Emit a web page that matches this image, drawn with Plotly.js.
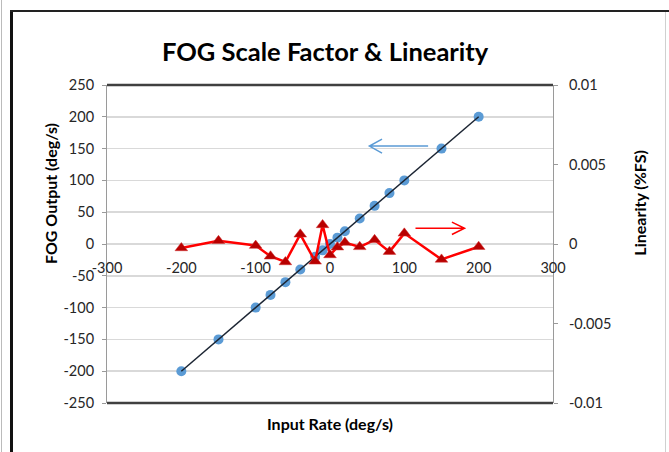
<!DOCTYPE html>
<html>
<head>
<meta charset="utf-8">
<script src="https://cdn.plot.ly/plotly-3.0.1.min.js"></script>
<style>
  html, body { margin: 0; padding: 0; background: #fff; }
  #wrap { position: relative; width: 669px; height: 452px; overflow: hidden; }
  #chart { position: absolute; left: 0; top: 0; width: 669px; height: 452px; }
  .frame { position: absolute; pointer-events: none; }
</style>
</head>
<body>
<div id="wrap">
  <div id="chart"></div>
  <div class="frame" style="left:10px; top:10px; width:3px; height:450px; background:#111;"></div>
  <div class="frame" style="left:10px; top:10px; width:659px; height:2px; background:#222;"></div>
  <div class="frame" style="left:665px; top:12px; width:1px; height:440px; background:#d0d0d0;"></div>
  <div class="frame" style="left:1px; top:0px; width:1px; height:452px; background:#bbb;"></div>
</div>
<script>
// ---- data ----
var inputRate = [-200, -150, -100, -80, -60, -40, -20, -10, 0, 10, 20, 40, 60, 80, 100, 150, 200];
var fogOutput = [-200, -150, -100, -80, -60, -40, -20, -10, 0, 10, 20, 40, 60, 80, 100, 150, 200];
var linearity = [-0.00025, 0.00020, -0.00010, -0.00077, -0.00113, 0.00061, -0.00109, 0.00120, -0.00069,
                 -0.00020, 0.00009, -0.00018, 0.00026, -0.00048, 0.00067, -0.00097, -0.00017];

var xTickVals = [-300, -200, -100, 0, 100, 200, 300];
var xTickText = ['-300', '-200', '-100', '0', '100', '200', '300'];
var yTickVals = [-250, -200, -150, -100, -50, 0, 50, 100, 150, 200, 250];
var yTickText = ['-250', '-200', '-150', '-100', '-50', '0', '50', '100', '150', '200', '250'];
var y2TickVals = [-0.01, -0.005, 0, 0.005, 0.01];
var y2TickText = ['-0.01', '-0.005', '0', '0.005', '0.01'];

var chartTitle = 'FOG Scale Factor & Linearity';
var xTitle = 'Input Rate (deg/s)';
var yTitle = 'FOG Output (deg/s)';
var y2Title = 'Linearity (%FS)';

// ---- traces ----
var FONT = 'Lato, "Open Sans", sans-serif';
var n = inputRate.length;

var fogTrace = {
  x: inputRate, y: fogOutput, type: 'scatter', mode: 'markers',
  marker: { color: '#5B9BD5', size: 10 },
  xaxis: 'x', yaxis: 'y', hoverinfo: 'x+y'
};
var trendTrace = {
  x: [inputRate[0], inputRate[n - 1]], y: [fogOutput[0], fogOutput[n - 1]],
  type: 'scatter', mode: 'lines',
  line: { color: '#1c2533', width: 1.5 },
  xaxis: 'x', yaxis: 'y', hoverinfo: 'skip'
};
var linTrace = {
  x: inputRate, y: linearity, type: 'scatter', mode: 'lines+markers',
  line: { color: '#FF0000', width: 2.5 },
  marker: { symbol: 'triangle-up', color: '#B80000', size: 11, line: { color: '#d03030', width: 0.5 } },
  xaxis: 'x', yaxis: 'y2'
};

var tickFont = { family: FONT, size: 14.5, color: '#262626' };
var titleFont = { family: FONT, size: 16, color: '#000' };

var layout = {
  width: 669, height: 452,
  margin: { l: 107, r: 116, t: 85, b: 49, pad: 0 },
  paper_bgcolor: 'rgba(0,0,0,0)', plot_bgcolor: '#fff',
  showlegend: false,
  title: { text: '<b>' + chartTitle + '</b>', x: 0.486, xanchor: 'center', y: 0.885, yanchor: 'middle',
           font: { family: FONT, size: 25.5, color: '#000' } },
  xaxis: {
    range: [-300, 300], tickvals: xTickVals, ticktext: xTickText,
    anchor: 'free', position: 0.5,
    showgrid: false, zeroline: false, showline: false,
    ticks: '', ticklabelstandoff: 13, tickfont: tickFont
  },
  yaxis: {
    range: [-250, 250], tickvals: yTickVals, ticktext: yTickText,
    showgrid: true, gridcolor: '#d9d9d9', gridwidth: 1.5, zeroline: false,
    showline: true, linecolor: '#9a9a9a', linewidth: 1,
    ticks: 'outside', ticklen: 4, tickcolor: '#9a9a9a', ticklabelstandoff: 5,
    tickfont: tickFont
  },
  yaxis2: {
    range: [-0.01, 0.01], tickvals: y2TickVals, ticktext: y2TickText,
    overlaying: 'y', side: 'right', anchor: 'x',
    showgrid: false, zeroline: false,
    showline: true, linecolor: '#9a9a9a', linewidth: 1,
    ticks: 'outside', ticklen: 4, tickcolor: '#9a9a9a', ticklabelstandoff: 8,
    tickfont: tickFont
  },
  shapes: [
    { type: 'line', xref: 'paper', yref: 'paper', x0: 0, x1: 1, y0: 1, y1: 1, line: { color: '#404040', width: 2.5 } },
    { type: 'line', xref: 'paper', yref: 'paper', x0: 0, x1: 1, y0: 0, y1: 0, line: { color: '#404040', width: 2.5 } },
    // blue arrow pointing left (to left axis)
    { type: 'path', xref: 'x', yref: 'y', path: 'M 132 154 L 53 154 M 70 165 L 53 154 L 70 143',
      line: { color: '#5B9BD5', width: 1.5 } },
    // red arrow pointing right (to right axis)
    { type: 'path', xref: 'x', yref: 'y2', path: 'M 115 0.00099 L 181 0.00099 M 164 0.00138 L 181 0.00099 L 164 0.0006',
      line: { color: '#FF0000', width: 1.5 } }
  ],
  annotations: [
    { text: '<b>' + xTitle + '</b>', xref: 'paper', yref: 'paper', x: 0.5, y: -0.063,
      xanchor: 'center', yanchor: 'middle', showarrow: false, font: titleFont },
    { text: '<b>' + yTitle + '</b>', xref: 'paper', yref: 'paper', x: -0.128, y: 0.66,
      xanchor: 'center', yanchor: 'middle', textangle: -90, showarrow: false, font: titleFont },
    { text: '<b>' + y2Title + '</b>', xref: 'paper', yref: 'paper', x: 1.195, y: 0.63,
      xanchor: 'center', yanchor: 'middle', textangle: -90, showarrow: false, font: titleFont }
  ]
};

Plotly.newPlot('chart', [fogTrace, trendTrace, linTrace], layout, { displayModeBar: false, staticPlot: true });
</script>
</body>
</html>
